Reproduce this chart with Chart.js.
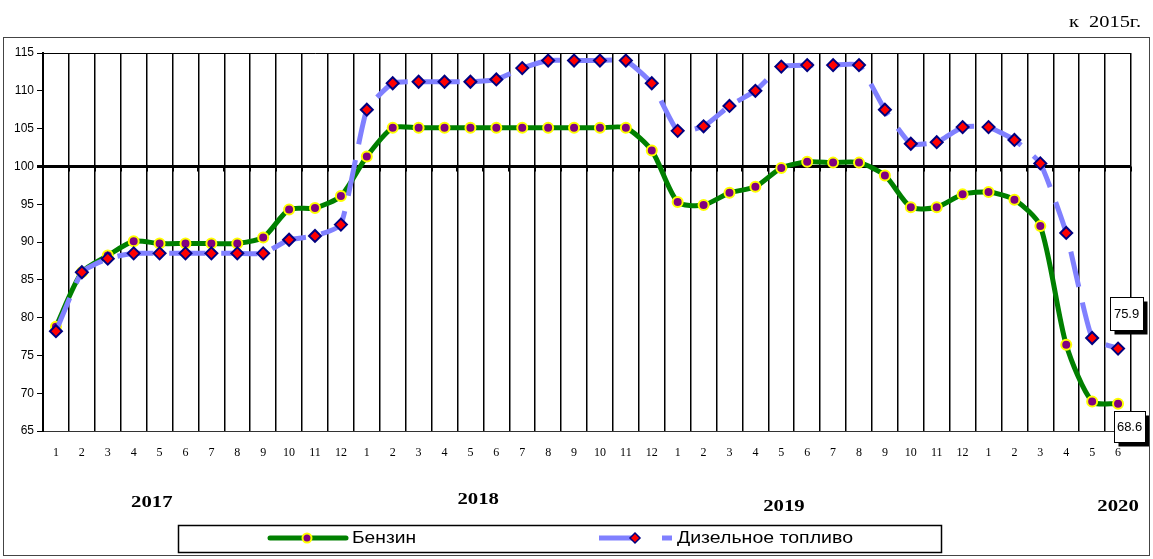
<!DOCTYPE html>
<html lang="ru">
<head>
<meta charset="UTF-8">
<title>Бензин и дизельное топливо, к 2015г.</title>
<script src="https://cdn.jsdelivr.net/npm/chart.js"></script>
<style>
    html, body { margin: 0; padding: 0; background: #fff; }
    #wrap { width: 1153px; height: 559px; }
</style>
</head>
<body>
<div id="wrap"><canvas id="grafico" width="1153" height="559"></canvas></div>

<script>
    // месяцы 2017-01 ... 2020-06
    const meses = [
        "1", "2", "3", "4", "5", "6", "7", "8", "9", "10", "11", "12",
        "1", "2", "3", "4", "5", "6", "7", "8", "9", "10", "11", "12",
        "1", "2", "3", "4", "5", "6", "7", "8", "9", "10", "11", "12",
        "1", "2", "3", "4", "5", "6"
    ];
    const anos = ["2017", "2018", "2019", "2020"];

    const benzin = [
        78.8, 86.0, 88.2, 90.1, 89.8, 89.8, 89.8, 89.8, 90.6, 94.3, 94.5, 96.1,
        101.3, 105.1, 105.1, 105.1, 105.1, 105.1, 105.1, 105.1, 105.1, 105.1, 105.1, 102.1,
        95.3, 94.9, 96.5, 97.3, 99.8, 100.6, 100.5, 100.5, 98.8, 94.6, 94.6, 96.3,
        96.6, 95.6, 92.1, 76.4, 68.9, 68.6
    ];
    const diesel = [
        78.2, 86.0, 87.8, 88.5, 88.5, 88.5, 88.5, 88.5, 88.5, 90.3, 90.8, 92.3,
        107.5, 111.0, 111.2, 111.2, 111.2, 111.5, 113.0, 114.0, 114.0, 114.0, 114.0, 111.0,
        104.7, 105.3, 108.0, 110.0, 113.2, 113.4, 113.4, 113.4, 107.5, 103.0, 103.2, 105.2,
        105.2, 103.5, 100.4, 91.2, 77.3, 75.9
    ];
    const yTicks = [65, 70, 75, 80, 85, 90, 95, 100, 105, 110, 115];
    const nomes = ["Бензин", "Дизельное топливо"];
    const subtitulo = "к  2015г.";

    const SANS = "'Liberation Sans', Arial, sans-serif";
    const SERIF = "'Liberation Serif', 'Times New Roman', serif";

    // текст, растянутый по горизонтали (как в исходной картинке)
    function textoLargo(ctx, txt, x, y, sx) {
        ctx.save();
        ctx.translate(x, y);
        ctx.scale(sx, 1);
        ctx.fillText(txt, 0, 0);
        ctx.restore();
    }

    function caixaValor(ctx, txt, cx, cy, w, h) {
        const x = Math.round(cx - w / 2) + 0.5, y = Math.round(cy - h / 2) + 0.5;
        ctx.fillStyle = "#000";
        ctx.fillRect(x + 4, y + 4, w, h);
        ctx.fillStyle = "#fff";
        ctx.fillRect(x, y, w, h);
        ctx.strokeStyle = "#000";
        ctx.lineWidth = 1;
        ctx.strokeRect(x, y, w, h);
        ctx.fillStyle = "#000";
        ctx.font = "13px " + SANS;
        ctx.textAlign = "center";
        ctx.textBaseline = "middle";
        ctx.fillText(txt, cx + 0.5, cy + 1);
    }

    const decoracao = {
        id: "decoracao",
        beforeDraw(chart) {
            const ctx = chart.ctx;
            ctx.save();
            ctx.fillStyle = "#fff";
            ctx.fillRect(0, 0, chart.width, chart.height);
            ctx.restore();
        },
        beforeDatasetsDraw(chart) {
            // риски оси категорий на линии 100
            const ctx = chart.ctx, area = chart.chartArea;
            const y100 = chart.scales.y.getPixelForValue(100);
            const passo = (area.right - area.left) / meses.length;
            ctx.save();
            ctx.strokeStyle = "#000";
            ctx.lineWidth = 2;
            for (let i = 0; i <= meses.length; i++) {
                const x = Math.round(area.left + i * passo);
                ctx.beginPath();
                ctx.moveTo(x, y100);
                ctx.lineTo(x, y100 + 5);
                ctx.stroke();
            }
            ctx.restore();
        },
        afterDraw(chart) {
            const ctx = chart.ctx;
            const xs = chart.scales.x;
            const ds0 = chart.data.datasets[0], ds1 = chart.data.datasets[1];
            const m0 = chart.getDatasetMeta(0), m1 = chart.getDatasetMeta(1);
            ctx.save();

            // подписи последних значений
            const p1 = m1.data[m1.data.length - 1];
            caixaValor(ctx, ds1.data[ds1.data.length - 1].toFixed(1), p1.x + 8, p1.y - 35, 33, 33);
            const p0 = m0.data[m0.data.length - 1];
            caixaValor(ctx, ds0.data[ds0.data.length - 1].toFixed(1), p0.x + 11, p0.y + 23, 31, 31);

            // подзаголовок
            ctx.fillStyle = "#000";
            ctx.font = "17px " + SERIF;
            ctx.textAlign = "right";
            ctx.textBaseline = "middle";
            textoLargo(ctx, subtitulo, 1141, 23, 1.2);

            // годы
            const posAno = [3.7, 16.3, 28.1, 41];
            const yAno = [503, 500, 507, 507];
            ctx.font = "bold 17px " + SERIF;
            ctx.textAlign = "center";
            anos.forEach((a, i) => {
                textoLargo(ctx, a, xs.getPixelForValue(posAno[i]), yAno[i], 1.22);
            });

            // легенда
            ctx.strokeStyle = "#000";
            ctx.lineWidth = 1.5;
            ctx.strokeRect(178.5, 525.5, 763, 27);
            const ly = 538;
            ctx.lineCap = "round";
            ctx.strokeStyle = ds0.borderColor;
            ctx.lineWidth = 5;
            ctx.beginPath(); ctx.moveTo(270, ly); ctx.lineTo(346, ly); ctx.stroke();
            ctx.beginPath();
            ctx.arc(307, ly, 4.5, 0, Math.PI * 2);
            ctx.fillStyle = ds0.pointBackgroundColor;
            ctx.fill();
            ctx.lineWidth = 2;
            ctx.strokeStyle = ds0.pointBorderColor;
            ctx.stroke();

            ctx.lineCap = "butt";
            ctx.strokeStyle = ds1.borderColor;
            ctx.lineWidth = 5;
            ctx.beginPath(); ctx.moveTo(599, ly); ctx.lineTo(634, ly); ctx.stroke();
            ctx.beginPath(); ctx.moveTo(662, ly); ctx.lineTo(672, ly); ctx.stroke();
            ctx.beginPath();
            ctx.moveTo(635, ly - 5); ctx.lineTo(640, ly); ctx.lineTo(635, ly + 5); ctx.lineTo(630, ly);
            ctx.closePath();
            ctx.fillStyle = ds1.pointBackgroundColor;
            ctx.fill();
            ctx.lineWidth = 1.5;
            ctx.strokeStyle = ds1.pointBorderColor;
            ctx.stroke();

            ctx.fillStyle = "#000";
            ctx.font = "16px " + SANS;
            ctx.textAlign = "left";
            ctx.textBaseline = "middle";
            textoLargo(ctx, nomes[0], 352, ly + 1, 1.2);
            textoLargo(ctx, nomes[1], 677, ly + 1, 1.22);

            // рамка диаграммы
            ctx.strokeStyle = "#444";
            ctx.lineWidth = 1;
            ctx.strokeRect(3.5, 37.5, 1146, 518);
            ctx.restore();
        }
    };

    new Chart(document.getElementById("grafico"), {
        type: "line",
        data: {
            labels: meses,
            datasets: [{
                label: nomes[0],
                data: benzin,
                order: 1,
                borderColor: "#008000",
                borderWidth: 5,
                tension: 0.25,
                pointStyle: "circle",
                pointRadius: 5,
                pointBackgroundColor: "#800080",
                pointBorderColor: "#ffff00",
                pointBorderWidth: 2
            }, {
                label: nomes[1],
                data: diesel,
                order: 0,
                borderColor: "#8080ff",
                borderWidth: 5,
                borderDash: [36, 16],
                tension: 0.15,
                pointStyle: "rectRot",
                pointRadius: 6,
                pointBackgroundColor: "#ff0000",
                pointBorderColor: "#000080",
                pointBorderWidth: 2
            }]
        },
        options: {
            responsive: false,
            animation: false,
            layout: { padding: { top: 53, right: 22, left: 0, bottom: 0 } },
            plugins: {
                legend: { display: false },
                title: { display: false },
                tooltip: { enabled: false }
            },
            scales: {
                x: {
                    offset: true,
                    grid: { offset: true, color: "#000", lineWidth: 1.5, drawTicks: false },
                    border: { display: true, color: "#333", width: 1 },
                    ticks: {
                        autoSkip: false,
                        maxRotation: 0,
                        padding: 15,
                        color: "#000",
                        font: { family: SERIF, size: 12 }
                    },
                    afterFit(scale) { scale.height = 128; }
                },
                y: {
                    min: 65,
                    max: 115,
                    afterBuildTicks(scale) { scale.ticks = yTicks.map(v => ({ value: v })); },
                    grid: {
                        color: c => (c.tick && [65, 100, 115].includes(c.tick.value)) ? "#000" : "rgba(0,0,0,0)",
                        lineWidth: c => (c.tick && c.tick.value === 100) ? 3 : 1,
                        tickColor: "#000",
                        tickLength: 6
                    },
                    border: { display: true, color: "#000", width: 2 },
                    ticks: {
                        padding: 3,
                        color: "#000",
                        font: { family: SANS, size: 12 }
                    },
                    afterFit(scale) { scale.width = 43; }
                }
            }
        },
        plugins: [decoracao]
    });
</script>
</body>
</html>
